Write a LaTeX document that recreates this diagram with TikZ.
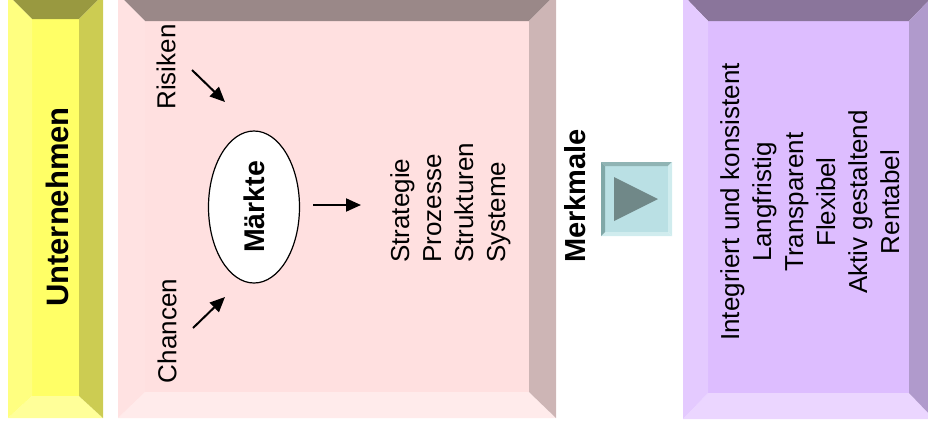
\documentclass[tikz,border=0pt]{standalone}
\usepackage{fontspec}
\setmainfont{Liberation Sans}
\usetikzlibrary{arrows.meta,shapes.geometric,positioning}

\definecolor{yelF}{RGB}{255,255,102}
\definecolor{yelT}{RGB}{153,153,64}
\definecolor{yelL}{RGB}{255,255,128}
\definecolor{yelR}{RGB}{204,204,82}
\definecolor{yelB}{RGB}{255,255,153}
\definecolor{pinF}{RGB}{255,224,224}
\definecolor{pinT}{RGB}{154,136,136}
\definecolor{pinL}{RGB}{255,226,226}
\definecolor{pinR}{RGB}{205,181,181}
\definecolor{pinB}{RGB}{255,235,235}
\definecolor{lilF}{RGB}{221,189,255}
\definecolor{lilT}{RGB}{138,117,155}
\definecolor{lilL}{RGB}{228,202,255}
\definecolor{lilR}{RGB}{176,154,204}
\definecolor{lilB}{RGB}{235,214,255}
\definecolor{btnF}{RGB}{186,224,228}
\definecolor{btnT}{RGB}{144,180,180}
\definecolor{btnL}{RGB}{128,168,168}
\definecolor{btnR}{RGB}{208,236,238}
\definecolor{btnB}{RGB}{208,236,238}
\definecolor{btnarrow}{RGB}{112,136,136}

\begin{document}
\begin{tikzpicture}[x=1pt,y=-1pt,
		label/.style={inner sep=0pt,rotate=90,font=\fontsize{26}{32}\selectfont},
		title/.style={inner sep=0pt,rotate=90,font=\fontsize{29}{34}\selectfont\bfseries},
		feed/.style={line width=2pt,-{Triangle[length=15pt,width=13pt]}}]
		\useasboundingbox (0,0) rectangle (928,432);
		\clip (0,0) rectangle (928,432);
		% bevelled panels: outer corners, inner corners, colour prefix
		\foreach \xa/\ya/\xb/\yb/\xc/\yc/\xd/\yd/\c in {8/-5/103/418/32/19/79/396/yel,
			118/-6/556/418/145/21/529/392/pin,
			683/-5/934/419/708/21/909/393/lil,
			601/162/672/236/605/166/668/232/btn}
			{
			\fill[\c F] (\xc,\yc) rectangle (\xd,\yd);
			\fill[\c T] (\xa,\ya)--(\xb,\ya)--(\xd,\yc)--(\xc,\yc)--cycle;
			\fill[\c B] (\xa,\yb)--(\xb,\yb)--(\xd,\yd)--(\xc,\yd)--cycle;
			\fill[\c L] (\xa,\ya)--(\xc,\yc)--(\xc,\yd)--(\xa,\yb)--cycle;
			\fill[\c R] (\xb,\ya)--(\xd,\yc)--(\xd,\yd)--(\xb,\yb)--cycle;
			}
		\fill[btnarrow] (614,177)--(658,199)--(614,221)--cycle;

		\node[title,font=\fontsize{31}{36}\selectfont\bfseries] (firm) at (57,207) {Unternehmen};
		\node[ellipse,draw,fill=white,line width=1.2pt,rotate=90,minimum width=152pt,minimum height=91pt,inner sep=0pt] (markt) at (254,207) {};
		\node[title,font=\fontsize{28.5}{34}\selectfont\bfseries] at (markt.center) {Märkte};
		\node[label] (risk) at (166,67) {Risiken};
		\node[label] (chance) at (167,331) {Chancen};
		\node[label,align=left,anchor=north west] (areas) at (390,263) {Strategie\\Prozesse\\Strukturen\\Systeme};
		\node[title] (traits) at (575,196) {Merkmale};
		\node[label,align=center,anchor=north] (list) at (720,202) {Integriert und konsistent\\Langfristig\\Transparent\\Flexibel\\Aktiv gestaltend\\Rentabel};

		\coordinate (r0) at (192,70);
		\coordinate (r1) at (225,102);
		\coordinate (c0) at (193,328);
		\coordinate (c1) at (225,297);
		\coordinate (m0) at (313,205);
		\coordinate (m1) at (361,205);
		\draw[feed] (r0)--(r1);
		\draw[feed] (c0)--(c1);
		\draw[feed] (m0)--(m1);
	\end{tikzpicture}
\end{document}
